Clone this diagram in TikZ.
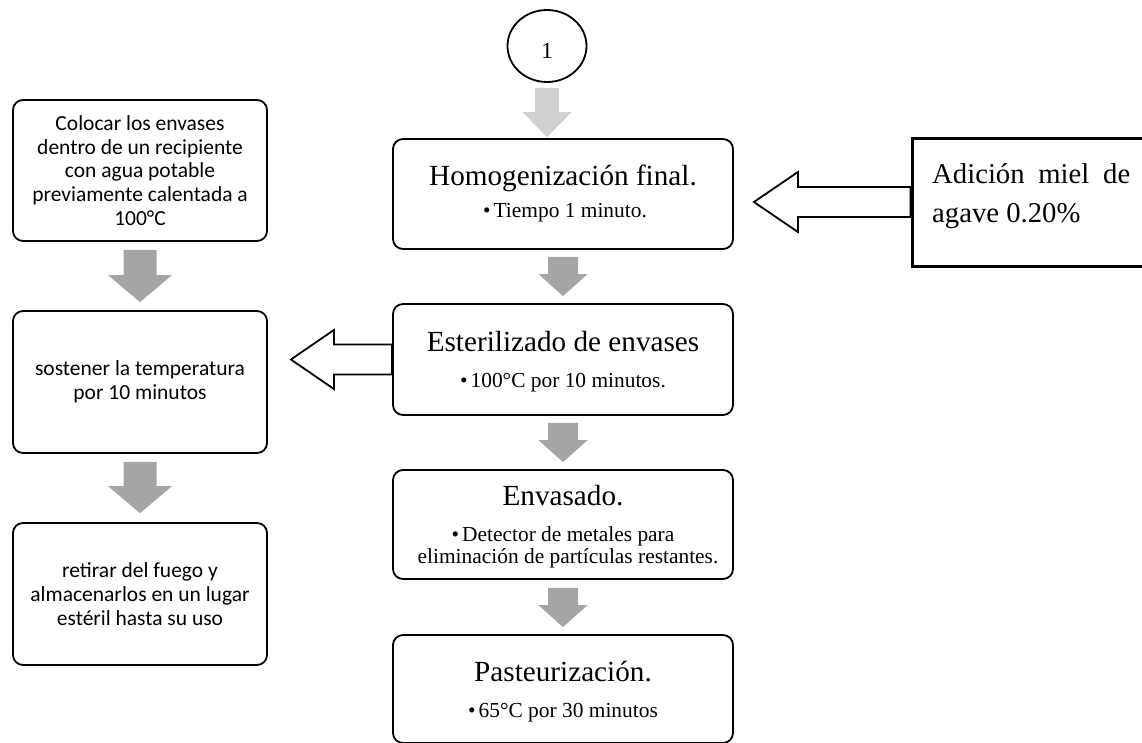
\documentclass[tikz,border=0pt]{standalone}
\usepackage{fontspec}
\setmainfont{Liberation Serif}
\newfontfamily\calfont{Carlito}
\usetikzlibrary{shapes.geometric,calc}
\definecolor{arrdark}{HTML}{A5A5A5}
\definecolor{arrlight}{HTML}{D0D0D0}
\begin{document}
\begin{tikzpicture}[x=1pt,y=-1pt,
  rbox/.style={draw=black, line width=1.8pt, rounded corners=10pt, inner sep=0pt, minimum width=340pt},
  ttl/.style={anchor=base, inner sep=0pt, font=\fontsize{29.2pt}{35pt}\selectfont},
  sub/.style={anchor=base, inner sep=0pt, font=\fontsize{21.4pt}{22pt}\selectfont},
  lbox/.style={draw=black, line width=1.8pt, rounded corners=10pt, inner sep=0pt, minimum width=254pt, minimum height=142pt, align=center, font=\calfont\fontsize{21.5pt}{23.7pt}\selectfont},
  hollow/.style={draw=black, fill=white, line width=1.8pt, line join=miter},
  blkdown/.style n args={5}{to path={let \p1=(\tikztostart), \p2=(\tikztotarget) in
     (\x1-#1,\y1-#4) -- (\x1+#1,\y1-#4) -- (\x1+#1,\y2+#5+#3) -- (\x1+#2,\y2+#5+#3) -- (\x1,\y2+#5)
     -- (\x1-#2,\y2+#5+#3) -- (\x1-#1,\y2+#5+#3) -- cycle}},
  blkleft/.style n args={5}{to path={let \p1=(\tikztostart), \p2=(\tikztotarget) in
     (\x1-#4,\y1-#1) -- (\x2+#5+#3,\y1-#1) -- (\x2+#5+#3,\y1-#2) -- (\x2+#5,\y1)
     -- (\x2+#5+#3,\y1+#2) -- (\x2+#5+#3,\y1+#1) -- (\x1-#4,\y1+#1) -- cycle}}
]
\useasboundingbox (0,0) rectangle (1142,742);

% start circle
\node[draw=black, line width=1.8pt, ellipse, minimum width=79pt, minimum height=72pt, inner sep=0pt] (c1) at (547,46) {};
\node[anchor=base, inner sep=0pt, font=\fontsize{23pt}{25pt}\selectfont] (c1t) at (547,58.5) {1};

% central boxes
\node[rbox, minimum height=110pt] (b1) at (563,194) {};
\node[ttl] (b1t) at (563,185) {Homogenización final.};
\node[sub] (b1s) at (565,217) {•\hspace{3pt}Tiempo 1 minuto.};

\node[rbox, minimum height=111pt] (b2) at (563,359.5) {};
\node[ttl] (b2t) at (563,351) {Esterilizado de envases};
\node[sub] (b2s) at (563,387) {•\hspace{3pt}100°C por 10 minutos.};

\node[rbox, minimum height=109pt] (b3) at (563,524.5) {};
\node[ttl] (b3t) at (563,505) {Envasado.};
\node[sub] (b3s) at (563,541) {•\hspace{3pt}Detector de metales para};
\node[sub] (b3u) at (568,563) {eliminación de partículas restantes.};

\node[rbox, minimum height=108pt] (b4) at (563,689) {};
\node[ttl] (b4t) at (563,681) {Pasteurización.};
\node[sub] (b4s) at (563,717) {•\hspace{3pt}65°C por 30 minutos};

% left boxes
\node[lbox, minimum height=141pt] (bA) at (140,170.5) {Colocar los envases\\dentro de un recipiente\\con agua potable\\previamente calentada a\\100°C};
\node[lbox] (bB) at (140,382) {sostener la temperatura\\por 10 minutos};
\node[lbox] (bC) at (140,594) {retirar del fuego y\\almacenarlos en un lugar\\estéril hasta su uso};

% right box
\node[draw=black, line width=3pt, minimum width=238pt, minimum height=128pt, inner sep=0pt] (ad) at (1031,202) {};
\node[anchor=base west, inner sep=0pt, font=\fontsize{28.7pt}{39pt}\selectfont] (adt1) at (932,183) {\makebox[198pt][s]{Adición miel de}};
\node[anchor=base west, inner sep=0pt, font=\fontsize{28.7pt}{39pt}\selectfont] (adt2) at (932,222) {agave 0.20\%};

% block arrows
\fill[arrlight] (c1.south) to[blkdown={12pt}{24.5pt}{25pt}{5pt}{1pt}] (b1.north);
\fill[arrdark] (b1.south) to[blkdown={15pt}{24.5pt}{22pt}{7pt}{7pt}] (b2.north);
\fill[arrdark] (b2.south) to[blkdown={15pt}{24.5pt}{22pt}{7pt}{7pt}] (b3.north);
\fill[arrdark] (b3.south) to[blkdown={15pt}{24.5pt}{22pt}{8pt}{7pt}] (b4.north);
\fill[arrdark] (bA.south) to[blkdown={16.5pt}{32pt}{27pt}{8pt}{8pt}] (bB.north);
\fill[arrdark] (bB.south) to[blkdown={16.5pt}{32pt}{27pt}{8pt}{9pt}] (bC.north);

% hollow arrows
\draw[hollow] (ad.west) to[blkleft={15pt}{30pt}{44pt}{0pt}{20pt}] (b1.east);
\draw[hollow] (b2.west) to[blkleft={15pt}{29.5pt}{43pt}{0pt}{23pt}] (bB.east);
\end{tikzpicture}
\end{document}
